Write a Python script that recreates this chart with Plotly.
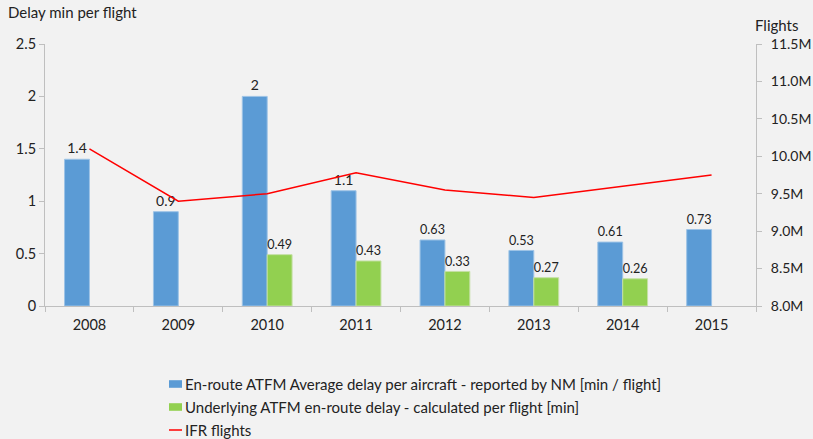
import plotly.graph_objects as go

years = ["2008", "2009", "2010", "2011", "2012", "2013", "2014", "2015"]
reported_delay = [1.4, 0.9, 2, 1.1, 0.63, 0.53, 0.61, 0.73]
underlying_delay = [None, None, 0.49, 0.43, 0.33, 0.27, 0.26, None]
ifr_flights_m = [10.10, 9.40, 9.50, 9.78, 9.55, 9.45, 9.60, 9.75]

names = ["En-route ATFM Average delay per aircraft - reported by NM [min / flight]",
         "Underlying ATFM en-route delay - calculated per flight [min]",
         "IFR flights"]
BLUE, GREEN, RED = "#5b9bd5", "#92d050", "#ff0000"

FONT = "Lato, Carlito, Calibri, sans-serif"
TXT = "#222222"
W, H = 813, 439
ML, MR, MT, MB = 45, 57, 44, 133
PW, PH = W - ML - MR, H - MT - MB


def px_x(p):
    return (p - ML) / PW


def px_y(p):
    return (H - MB - p) / PH


fig = go.Figure()
fig.add_trace(go.Bar(
    x=years, y=reported_delay, name=names[0],
    marker=dict(color=BLUE, line=dict(color="#9dc3e6", width=1)),
    text=[str(v) for v in reported_delay], textposition="outside", cliponaxis=False,
    textfont=dict(size=14, color=TXT), yaxis="y",
))
fig.add_trace(go.Bar(
    x=years, y=underlying_delay, name=names[1],
    marker=dict(color=GREEN, line=dict(color="#c5e0a5", width=1)),
    text=[("" if v is None else str(v)) for v in underlying_delay], textposition="outside", cliponaxis=False,
    textfont=dict(size=14, color=TXT), yaxis="y",
))
fig.add_trace(go.Scatter(
    x=years, y=ifr_flights_m, name=names[2], mode="lines",
    line=dict(color=RED, width=1.5), yaxis="y2",
))

# legend drawn manually at bottom (Excel-style compact keys)
shapes = []
annotations = []
rows_y = [384, 407, 430]
key_x0, key_x1 = 169, 182
for i, (nm, col) in enumerate(zip(names, [BLUE, GREEN, RED])):
    cy = rows_y[i]
    if i < 2:
        shapes.append(dict(type="rect", xref="paper", yref="paper",
                           x0=px_x(key_x0), x1=px_x(key_x1), y0=px_y(cy - 3.8), y1=px_y(cy + 3.8),
                           fillcolor=col, line=dict(width=0)))
    else:
        shapes.append(dict(type="line", xref="paper", yref="paper",
                           x0=px_x(key_x0), x1=px_x(key_x1), y0=px_y(cy), y1=px_y(cy),
                           line=dict(color=col, width=1.5)))
    annotations.append(dict(text=nm, xref="paper", yref="paper", x=px_x(key_x1 + 1), y=px_y(cy),
                            xanchor="left", yanchor="middle", showarrow=False,
                            font=dict(size=15, color=TXT)))

annotations += [
    dict(text="Delay min per flight", xref="paper", yref="paper", x=-0.05, y=1.08,
         xanchor="left", yanchor="bottom", showarrow=False, font=dict(size=15, color=TXT),
         xshift=-3),
    dict(text="Flights", xref="paper", yref="paper", x=1.0, y=1.03,
         xanchor="left", yanchor="bottom", showarrow=False, font=dict(size=15, color=TXT),
         xshift=-3),
]

fig.update_layout(
    width=W, height=H,
    paper_bgcolor="#f2f2f2", plot_bgcolor="#f2f2f2",
    font=dict(family=FONT, size=14, color=TXT),
    margin=dict(l=ML, r=MR, t=MT, b=MB, autoexpand=False),
    barmode="group", bargap=0.44, bargroupgap=0,
    showlegend=False,
    xaxis=dict(type="category", showgrid=False, showline=True, linecolor="#bfbfbf", linewidth=1,
               ticks="outside", tickson="boundaries", ticklen=5, tickcolor="#bfbfbf",
               ticklabelstandoff=6, automargin=False,
               tickfont=dict(size=14.5, color=TXT), zeroline=False),
    yaxis=dict(range=[0, 2.5], dtick=0.5, showgrid=False, showline=True, linecolor="#bfbfbf",
               ticks="outside", ticklen=5, tickcolor="#bfbfbf", zeroline=False, automargin=False,
               tickfont=dict(size=14.5, color=TXT), tickformat="~g"),
    yaxis2=dict(range=[8.0, 11.5], dtick=0.5, overlaying="y", side="right", showgrid=False,
                showline=True, linecolor="#bfbfbf", ticks="outside", ticklen=5, tickcolor="#bfbfbf",
                ticklabelstandoff=6, automargin=False,
                tickformat=".1f", ticksuffix="M", tickfont=dict(size=14, color=TXT), zeroline=False),
    shapes=shapes,
    annotations=annotations,
)

fig.write_html("out.html", config={"displayModeBar": False},
               post_script="document.body.style.margin='0';document.body.style.overflow='hidden';document.body.style.background='#f2f2f2';")
